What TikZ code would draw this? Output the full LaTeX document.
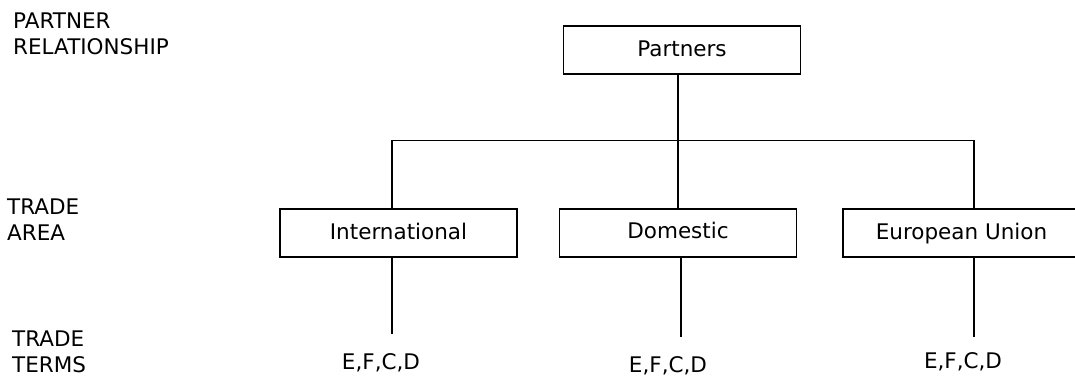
\documentclass[tikz,border=0pt]{standalone}
\usepackage{fontspec}
\setmainfont{DejaVu Sans}
\usetikzlibrary{positioning}

\begin{document}
\begin{tikzpicture}[x=1pt,y=-1pt,
        every node/.style={font=\fontsize{21.5}{26}\selectfont,inner sep=0pt},
        area/.style={draw,line width=1.3pt,minimum width=237pt,minimum height=48pt,
            text height=16pt,text depth=2.5pt},
        level/.style={align=left,anchor=north west},
        terms/.style={anchor=base},
        link/.style={draw,line width=1.3pt}]
    \useasboundingbox (0,0) rectangle (1075,376);

    % row captions
    \node[level] (lvlpartner) at (13,13) {PARTNER\\RELATIONSHIP};
    \node[level] (lvlarea) at (7,199) {TRADE\\AREA};
    \node[level] (lvlterms) at (12,331) {TRADE\\TERMS};

    % boxes
    \node[area] (partners) at (682,50) {Partners};
    \node[area] (intl) at (398.5,233) {International};
    \node[area,text height=15pt,text depth=4pt] (domestic) at (678,233) {Domestic};
    \node[area] (eu) at (961.5,233) {European Union};

    % terms
    \node[terms] (termI) at (381,369) {E,F,C,D};
    \node[terms] (termD) at (668,372) {E,F,C,D};
    \node[terms] (termE) at (963,368) {E,F,C,D};

    % links
    \draw[link] ([xshift=-4pt]partners.south) -- (domestic.north);
    \draw[link] ([xshift=-6.5pt]intl.north) -- ++(0,-68) -| ([xshift=12.5pt]eu.north);
    \draw[link] ([xshift=-6.5pt]intl.south) -- ([xshift=11pt,yshift=19pt]termI.north);
    \draw[link] ([xshift=3pt]domestic.south) -- ([xshift=13pt,yshift=19pt]termD.north);
    \draw[link] ([xshift=12.5pt]eu.south) -- ([xshift=11pt,yshift=15pt]termE.north);
\end{tikzpicture}
\end{document}
